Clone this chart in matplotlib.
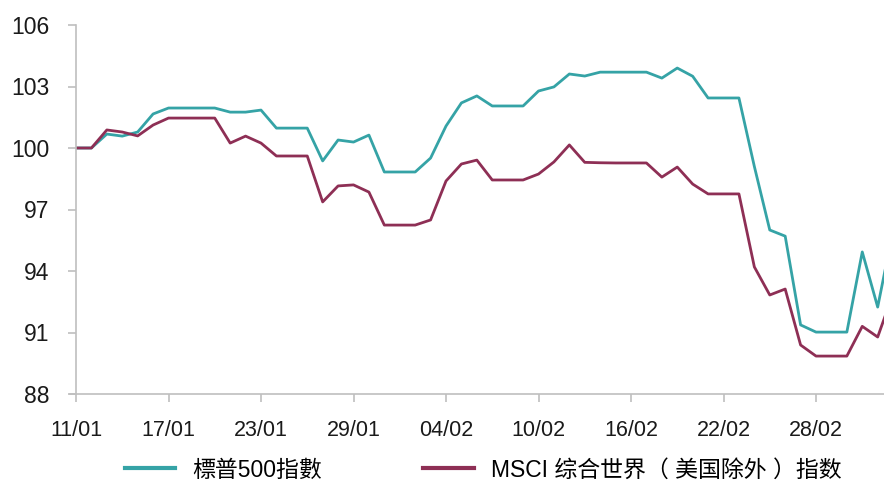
import matplotlib
matplotlib.use("Agg")
import matplotlib.pyplot as plt
import matplotlib.dates as mdates
import pandas as pd

# Daily dates 11/01/2020 .. 04/03/2020
dates = pd.date_range("2020-01-11", periods=54, freq="D")

sp500 = [100, 100, 100.68, 100.58, 100.78, 101.66, 101.95, 101.95, 101.95, 101.95,
         101.75, 101.75, 101.85, 100.97, 100.97, 100.97, 99.37, 100.39, 100.29, 100.63,
         98.83, 98.83, 98.83, 99.51, 101.07, 102.20, 102.54, 102.05, 102.05, 102.05,
         102.78, 102.98, 103.61, 103.51, 103.70, 103.70, 103.70, 103.70, 103.41, 103.90,
         103.50, 102.44, 102.44, 102.44, 99.10, 96.00, 95.70, 91.37, 91.02, 91.02,
         91.02, 94.93, 92.24, 96.00]

msci = [100, 100, 100.88, 100.78, 100.59, 101.12, 101.46, 101.46, 101.46, 101.46,
        100.24, 100.58, 100.24, 99.61, 99.61, 99.61, 97.37, 98.15, 98.20, 97.85,
        96.24, 96.24, 96.24, 96.49, 98.39, 99.22, 99.41, 98.44, 98.44, 98.44,
        98.73, 99.32, 100.15, 99.30, 99.28, 99.27, 99.27, 99.27, 98.58, 99.07,
        98.24, 97.76, 97.76, 97.76, 94.20, 92.83, 93.12, 90.39, 89.85, 89.85,
        89.85, 91.30, 90.78, 92.90]

labels = ["標普500指數", "MSCI 综合世界（ 美国除外 ）指数"]
yticks = [88, 91, 94, 97, 100, 103, 106]

teal = "#35A3A6"
maroon = "#8E2F55"
grey = "#BFBFBF"

fig = plt.figure(figsize=(8.84, 4.82), dpi=100)
ax = fig.add_axes([76/884, 1-394/482, 1-76/884, (394-25)/482])

ax.plot(dates, sp500, color=teal, lw=2.0, label=labels[0])
ax.plot(dates, msci, color=maroon, lw=2.0, label=labels[1])

ax.set_ylim(88, 106)
ax.set_yticks(yticks)
x0 = mdates.date2num(dates[0])
ax.set_xlim(x0, x0 + (884-76)/15.417)
ticks = [x0 + 6*i for i in range(9)]
ax.set_xticks(ticks)
ax.xaxis.set_major_formatter(mdates.DateFormatter("%d/%m"))

for s in ["top", "right"]:
    ax.spines[s].set_visible(False)
for s in ["left", "bottom"]:
    ax.spines[s].set_color(grey)
    ax.spines[s].set_linewidth(1.2)
ax.tick_params(axis="both", colors=grey, length=6, width=1.2, direction="out")
ax.tick_params(axis="y", labelcolor="#1a1a1a", labelsize=16.5, pad=13)
ax.tick_params(axis="x", labelcolor="#1a1a1a", labelsize=15.5, pad=13)
for t in ax.get_xticklabels() + ax.get_yticklabels():
    t.set_family(["Liberation Sans", "DejaVu Sans"])
ax.spines["bottom"].set_bounds(ax.get_xlim()[0] - 0.4, ax.get_xlim()[1])
ax.spines["bottom"].set_clip_on(False)

leg = fig.legend(loc="center left", bbox_to_anchor=(125/884, 1-470/482), ncol=2,
                 frameon=False, borderpad=0, borderaxespad=0,
                 handlelength=2.2, handletextpad=0.75, columnspacing=4.4,
                 prop={"family": ["Liberation Sans", "Noto Sans CJK SC"], "size": 16.5})
for line in leg.get_lines():
    line.set_linewidth(3)

fig.savefig("out.png", dpi=100)
